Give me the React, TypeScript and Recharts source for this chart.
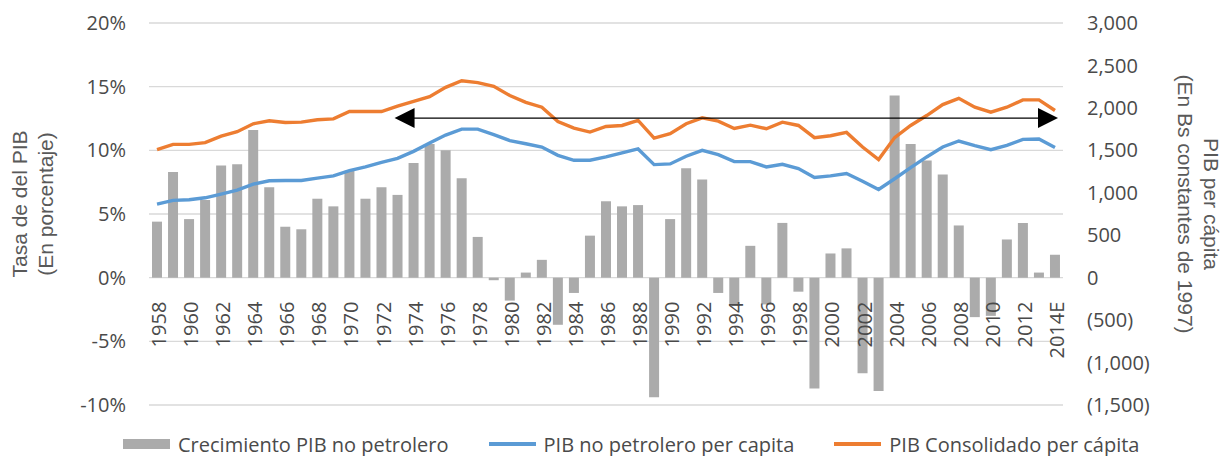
import { Bar, CartesianGrid, ComposedChart, Legend, Line, ReferenceLine, XAxis, YAxis } from 'recharts'

const years = [
  '1958', '1959', '1960', '1961', '1962', '1963', '1964', '1965', '1966', '1967',
  '1968', '1969', '1970', '1971', '1972', '1973', '1974', '1975', '1976', '1977',
  '1978', '1979', '1980', '1981', '1982', '1983', '1984', '1985', '1986', '1987',
  '1988', '1989', '1990', '1991', '1992', '1993', '1994', '1995', '1996', '1997',
  '1998', '1999', '2000', '2001', '2002', '2003', '2004', '2005', '2006', '2007',
  '2008', '2009', '2010', '2011', '2012', '2013', '2014E',
]

// % growth of non-oil GDP (left axis)
const growthNonOil = [
  4.4, 8.3, 4.6, 6.1, 8.8, 8.9, 11.6, 7.1, 4.0, 3.8,
  6.2, 5.6, 8.4, 6.2, 7.1, 6.5, 9.0, 10.5, 10.0, 7.8,
  3.2, -0.2, -1.8, 0.4, 1.4, -3.7, -1.2, 3.3, 6.0, 5.6,
  5.7, -9.4, 4.6, 8.6, 7.7, -1.2, -2.2, 2.5, -2.1, 4.3,
  -1.1, -8.7, 1.9, 2.3, -7.5, -8.9, 14.3, 10.5, 9.2, 8.1,
  4.1, -3.1, -3.0, 3.0, 4.3, 0.4, 1.8,
]

// Bs constantes de 1997 (right axis)
const nonOilPerCapita = [
  867, 910, 918, 941, 984, 1031, 1102, 1141, 1145, 1145,
  1172, 1199, 1262, 1305, 1359, 1406, 1488, 1586, 1680, 1750,
  1750, 1684, 1615, 1578, 1539, 1441, 1383, 1383, 1422, 1469,
  1516, 1332, 1340, 1430, 1500, 1450, 1367, 1367, 1305, 1336,
  1285, 1180, 1199, 1227, 1137, 1039, 1165, 1297, 1422, 1539,
  1610, 1555, 1508, 1559, 1629, 1633, 1532,
]

const consolidatedPerCapita = [
  1508, 1570, 1570, 1590, 1668, 1719, 1813, 1848, 1828, 1832,
  1860, 1871, 1957, 1957, 1957, 2020, 2078, 2133, 2242, 2320,
  2297, 2254, 2145, 2066, 2008, 1840, 1762, 1715, 1781, 1793,
  1852, 1645, 1696, 1813, 1883, 1844, 1758, 1797, 1754, 1832,
  1793, 1649, 1672, 1711, 1539, 1391, 1650, 1793, 1910, 2039,
  2113, 2008, 1949, 2008, 2094, 2094, 1969,
]

const leftTicks = [-10, -5, 0, 5, 10, 15, 20]
const rightTicks = [-1500, -1000, -500, 0, 500, 1000, 1500, 2000, 2500, 3000]

const arrowLevel = 1880
const arrowFrom = '1973'
const arrowTo = '2014E'

const chartData = years.map((year, i) => ({
  year,
  growth: growthNonOil[i],
  nonOil: nonOilPerCapita[i],
  consolidated: consolidatedPerCapita[i],
}))

const WIDTH = 1223
const HEIGHT = 456
const TOP = 23
const PLOT_H = 382
const ZERO_Y = TOP + (PLOT_H * 20) / 30
const TEXT = '#595959'
const TICK_TEXT = '#4a4a4a'
const TICK_FONT = "'Open Sans', sans-serif"
const TITLE_FONT = "'Liberation Sans', Arial, sans-serif"

const GRAY = '#ababab'
const BLUE = '#5b9bd5'
const ORANGE = '#ed7d31'

function formatRight(v: number) {
  const s = Math.abs(v).toLocaleString('en-US')
  return v < 0 ? `(${s})` : s
}

const renderXTick = (props: any) => {
  const { x, payload } = props
  return (
    <text
      transform={`translate(${x + 9},${ZERO_Y + 24}) rotate(-90)`}
      textAnchor="end"
      fontSize={20}
      fontFamily={TICK_FONT}
      fill={TICK_TEXT}
    >
      {payload.value}
    </text>
  )
}

const renderLeftTitle = () => (
  <g fill={TEXT} fontSize={21} fontFamily={TITLE_FONT}>
    <text transform="translate(27,204) rotate(-90)" textAnchor="middle">
      Tasa de del PIB
    </text>
    <text transform="translate(53,204) rotate(-90)" textAnchor="middle">
      (En porcentaje)
    </text>
  </g>
)

const renderRightTitle = () => (
  <g fill={TEXT} fontSize={21} fontFamily={TITLE_FONT}>
    <text transform="translate(1204,204) rotate(90)" textAnchor="middle">
      PIB per cápita
    </text>
    <text transform="translate(1178,204) rotate(90)" textAnchor="middle">
      (En Bs constantes de 1997)
    </text>
  </g>
)

const renderArrow = (props: any) => {
  const { x1, y1, x2 } = props
  const l = x1 - 3
  const r = x2 + 3
  return (
    <g>
      <line x1={l + 18} y1={y1} x2={r - 18} y2={y1} stroke="#000" strokeWidth={1.3} />
      <polygon points={`${l},${y1} ${l + 20},${y1 - 10} ${l + 20},${y1 + 10}`} fill="#000" />
      <polygon points={`${r},${y1} ${r - 20},${y1 - 10} ${r - 20},${y1 + 10}`} fill="#000" />
    </g>
  )
}

const legendItems = [
  { label: 'Crecimiento PIB no petrolero', color: GRAY, kind: 'bar' },
  { label: 'PIB no petrolero per capita', color: BLUE, kind: 'line' },
  { label: 'PIB Consolidado per cápita', color: ORANGE, kind: 'line' },
]

const renderLegend = () => (
  <div
    style={{
      display: 'flex',
      alignItems: 'center',
      height: 30,
      paddingLeft: 123,
      fontFamily: TICK_FONT,
      fontSize: 20,
      color: TICK_TEXT,
      whiteSpace: 'nowrap',
    }}
  >
    {legendItems.map((item) => (
      <div key={item.label} style={{ display: 'flex', alignItems: 'center', marginRight: 40 }}>
        <span
          style={{
            display: 'inline-block',
            width: 47,
            height: item.kind === 'bar' ? 10 : 4,
            background: item.color,
            marginRight: 8,
          }}
        />
        <span>{item.label}</span>
      </div>
    ))}
  </div>
)

export default function App() {
  return (
    <div style={{ position: 'absolute', left: 0, top: 0, width: WIDTH, height: HEIGHT, background: '#fff' }}>
      <ComposedChart
        width={WIDTH}
        height={HEIGHT}
        data={chartData}
        margin={{ top: TOP, right: 0, bottom: 20, left: 0 }}
      >
        <CartesianGrid yAxisId="left" vertical={false} stroke="#d9d9d9" strokeWidth={1.3} />
        <XAxis
          dataKey="year"
          height={1}
          interval={1}
          axisLine={false}
          tickLine={false}
          tick={renderXTick}
        />
        <YAxis
          yAxisId="left"
          domain={[-10, 20]}
          ticks={leftTicks}
          width={149}
          axisLine={false}
          tickLine={false}
          tickSize={0}
          tickMargin={23}
          tickFormatter={(v: number) => `${v}%`}
          tick={{ fontSize: 20, fill: TICK_TEXT, fontFamily: TICK_FONT }}
          label={renderLeftTitle}
        />
        <YAxis
          yAxisId="right"
          orientation="right"
          domain={[-1500, 3000]}
          ticks={rightTicks}
          width={160}
          axisLine={false}
          tickLine={false}
          tickSize={0}
          tickMargin={24}
          tickFormatter={formatRight}
          tick={{ fontSize: 20, fill: TICK_TEXT, fontFamily: TICK_FONT }}
          label={renderRightTitle}
        />
        <Bar yAxisId="left" dataKey="growth" fill={GRAY} barSize={10} isAnimationActive={false} />
        <Line
          yAxisId="right"
          type="linear"
          dataKey="nonOil"
          stroke={BLUE}
          strokeWidth={3.4}
          dot={false}
          activeDot={false}
          isAnimationActive={false}
        />
        <Line
          yAxisId="right"
          type="linear"
          dataKey="consolidated"
          stroke={ORANGE}
          strokeWidth={3.4}
          dot={false}
          activeDot={false}
          isAnimationActive={false}
        />
        <ReferenceLine
          yAxisId="right"
          segment={[
            { x: arrowFrom, y: arrowLevel },
            { x: arrowTo, y: arrowLevel },
          ]}
          ifOverflow="visible"
          shape={renderArrow}
        />
        <Legend content={renderLegend} wrapperStyle={{ left: 0, top: 429, width: WIDTH, height: 30 }} />
      </ComposedChart>
    </div>
  )
}
